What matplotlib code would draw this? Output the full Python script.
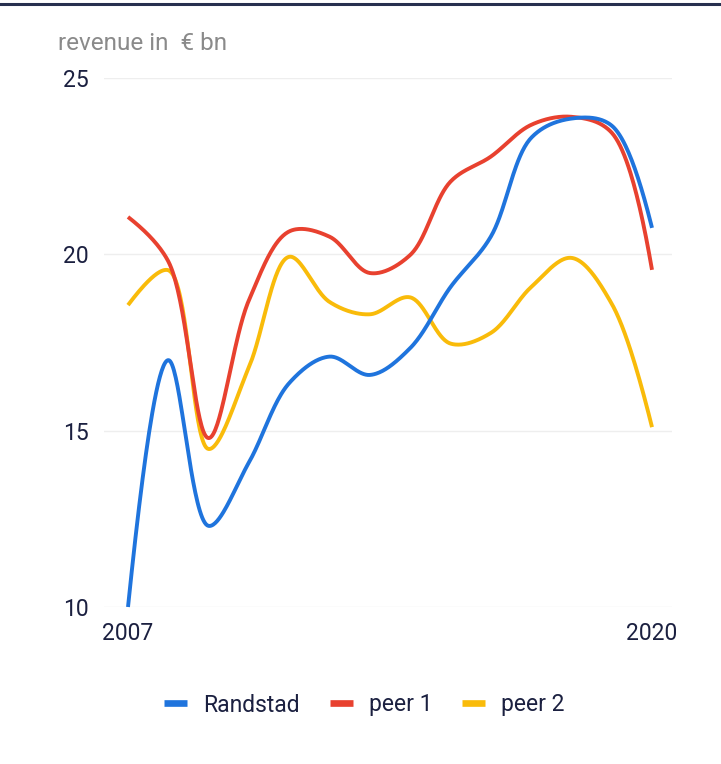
import numpy as np
import matplotlib
matplotlib.use('Agg')
import matplotlib.pyplot as plt
from matplotlib.lines import Line2D

years = list(range(2007, 2021))
randstad = [10.0, 17.0, 12.3, 14.1, 16.35, 17.1, 16.58, 17.34, 19.07, 20.5, 23.3, 23.85, 23.65, 20.75]
peer1 = [21.06, 19.8, 14.79, 18.7, 20.65, 20.5, 19.47, 19.98, 22.06, 22.77, 23.67, 23.9, 23.45, 19.56]
peer2 = [18.56, 19.55, 14.48, 16.8, 19.93, 18.65, 18.3, 18.78, 17.47, 17.77, 19.07, 19.9, 18.6, 15.1]
series_names = ["Randstad", "peer 1", "peer 2"]
colors = ["#1f74dd", "#e8412f", "#f9bb0a"]
yticks = [10, 15, 20, 25]
xticks = [2007, 2020]
title = "revenue in  \u20ac bn"

W, H = 721, 764
fig = plt.figure(figsize=(W / 100, H / 100), dpi=100)
ax = fig.add_axes([104 / W, 1 - 607 / H, (672 - 104) / W, (607 - 78) / H])
per_year = (652 - 128) / 13.0
ax.set_xlim(2007 - 24 / per_year, 2020 + 20 / per_year)
ax.set_ylim(10, 25)


def make_tangent(p0, p1, p2, s=1.0):
    d1x, d1y = p0[0] - p1[0], p0[1] - p1[1]
    d2x, d2y = p2[0] - p1[0], p2[1] - p1[1]
    d1a = (d1x * d1x + d1y * d1y) ** 0.25
    d2a = (d2x * d2x + d2y * d2y) ** 0.25
    numx = (d2a * d2a * d1x - d1a * d1a * d2x) * s
    numy = (d2a * d2a * d1y - d1a * d1a * d2y) * s
    den1 = 3 * d2a * (d1a + d2a)
    den2 = 3 * d1a * (d1a + d2a)
    a = (p1[0] + (numx / den1 if den1 else 0), p1[1] + (numy / den1 if den1 else 0))
    b = (p1[0] - (numx / den2 if den2 else 0), p1[1] - (numy / den2 if den2 else 0))
    return a, b


def quad(p0, c, p1, n=40):
    t = np.linspace(0, 1, n)[:, None]
    p0, c, p1 = map(np.asarray, (p0, c, p1))
    return (1 - t) ** 2 * p0 + 2 * (1 - t) * t * c + t ** 2 * p1


def cubic(p0, c1, c2, p1, n=40):
    t = np.linspace(0, 1, n)[:, None]
    p0, c1, c2, p1 = map(np.asarray, (p0, c1, c2, p1))
    return ((1 - t) ** 3 * p0 + 3 * (1 - t) ** 2 * t * c1
            + 3 * (1 - t) * t ** 2 * c2 + t ** 3 * p1)


def spline(xs, ys):
    pts = ax.transData.transform(np.column_stack([xs, ys]))
    pts = [tuple(p) for p in pts]
    tans = [make_tangent(pts[i - 1], pts[i], pts[i + 1]) for i in range(1, len(pts) - 1)]
    segs = [quad(pts[0], tans[0][0], pts[1])]
    for i in range(2, len(pts) - 1):
        segs.append(cubic(pts[i - 1], tans[i - 2][1], tans[i - 1][0], pts[i]))
    segs.append(quad(pts[-2], tans[-1][1], pts[-1]))
    allp = np.vstack(segs)
    return ax.transData.inverted().transform(allp)


for i, ser in enumerate([randstad, peer1, peer2]):
    d = spline(years, ser)
    ax.plot(d[:, 0], d[:, 1], color=colors[i], lw=2.8, clip_on=False,
            solid_capstyle='butt', zorder=3 + (2 - i))

font = "Roboto"
ax.set_yticks(yticks)
ax.set_xticks(xticks)
ax.set_yticklabels([str(v) for v in yticks], fontsize=16.5, color="#1b2040", family=font)
ax.set_xticklabels([str(v) for v in xticks], fontsize=16.5, color="#1b2040", family=font)
ax.tick_params(axis='both', length=0)
ax.tick_params(axis='y', pad=11)
ax.tick_params(axis='x', pad=11)
ax.grid(axis='y', color="#eeeeee", lw=1)
ax.grid(axis='x', visible=False)
for s in ax.spines.values():
    s.set_visible(False)
ax.set_axisbelow(True)

fig.text(58 / W, 1 - 43 / H, title, fontsize=17.5, color="#8a8a8a", family=font,
         ha='left', va='center')

fig.add_artist(Line2D([0, 1], [1 - 4 / H, 1 - 4 / H], transform=fig.transFigure,
                      color="#27304f", lw=2.2))

handles = [Line2D([0], [0], color=c, lw=4.8, solid_capstyle='butt') for c in colors]
leg = fig.legend(handles, series_names, loc='center', bbox_to_anchor=(364.5 / W, 1 - 705 / H),
                 ncol=3, frameon=False, handlelength=1.0, handletextpad=0.7,
                 columnspacing=1.3, prop={'family': font, 'size': 16.5})
for t in leg.get_texts():
    t.set_color("#1b2040")

fig.savefig("out.png", dpi=100, facecolor="white")
